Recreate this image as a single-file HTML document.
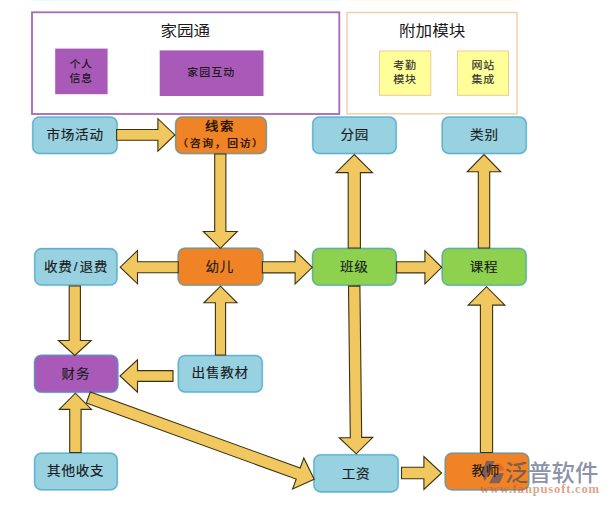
<!DOCTYPE html>
<html lang="zh-CN"><head><meta charset="utf-8"><title>家园通 流程图</title>
<style>html,body{margin:0;padding:0;background:#fff;}body{width:609px;height:505px;overflow:hidden;font-family:"Liberation Sans","Noto Sans CJK SC",sans-serif;}svg{display:block;}text.nt{stroke:#1a1a1a;stroke-width:0.15px;}text{font-family:"Liberation Sans","Noto Sans CJK SC",sans-serif;fill:#1a1a1a;text-anchor:middle;}</style></head><body>
<svg width="609" height="505" viewBox="0 0 609 505">
<rect width="609" height="505" fill="#fff"/>
<rect x="31" y="0" width="310" height="1" fill="#eafaff"/>
<rect x="346" y="0" width="172" height="1" fill="#fffbe8"/>
<rect x="32" y="12.3" width="307.3" height="101.7" fill="#fff" stroke="#a868b6" stroke-width="1.8"/>
<rect x="347" y="12.5" width="170" height="101.3" fill="#fff" stroke="#f3cfa6" stroke-width="1.5"/>
<text transform="translate(185.3 36) scale(1 0.92)" x="0" y="0" font-size="16.6">家园通</text>
<text transform="translate(432.2 36) scale(1 0.92)" x="0" y="0" font-size="16.6">附加模块</text>
<rect x="55.2" y="48.6" width="52.4" height="45.6" fill="#a95ab8"/>
<rect x="159.7" y="50.4" width="103.8" height="45.6" fill="#a95ab8"/>
<text transform="translate(81 67.7) scale(1 0.94)" x="0" y="0" font-size="11" font-weight="500" letter-spacing="0.5">个人</text>
<text transform="translate(81 82) scale(1 0.94)" x="0" y="0" font-size="11" font-weight="500" letter-spacing="0.5">信息</text>
<text transform="translate(211.2 76.4) scale(1 0.94)" x="0" y="0" font-size="11" font-weight="500" letter-spacing="1">家园互动</text>
<rect x="379.5" y="51" width="51.3" height="44.3" fill="#ffff99" stroke="#f2c79a" stroke-width="1"/>
<rect x="457.5" y="51" width="51" height="44.3" fill="#ffff99" stroke="#f2c79a" stroke-width="1"/>
<text transform="translate(405 69.2) scale(1 0.94)" x="0" y="0" font-size="11" letter-spacing="0.8" style="fill:#2e2e2e;stroke:#2e2e2e;stroke-width:0.15px">考勤</text>
<text transform="translate(405 83.3) scale(1 0.94)" x="0" y="0" font-size="11" letter-spacing="0.8" style="fill:#2e2e2e;stroke:#2e2e2e;stroke-width:0.15px">模块</text>
<text transform="translate(483.3 69.2) scale(1 0.94)" x="0" y="0" font-size="11" letter-spacing="0.8" style="fill:#2e2e2e;stroke:#2e2e2e;stroke-width:0.15px">网站</text>
<text transform="translate(483.3 83.3) scale(1 0.94)" x="0" y="0" font-size="11" letter-spacing="0.8" style="fill:#2e2e2e;stroke:#2e2e2e;stroke-width:0.15px">集成</text>
<rect x="32.10" y="116.40" width="85.60" height="37.80" rx="7.4" ry="7.4" fill="#98d1e0" stroke="#9fd6ea" stroke-width="0.6"/>
<rect x="32.85" y="117.15" width="84.10" height="36.30" rx="6.6" ry="6.6" fill="none" stroke="#3c9cc4" stroke-opacity="0.62" stroke-width="1.3"/>
<rect x="175.00" y="116.30" width="92.00" height="37.90" rx="7.4" ry="7.4" fill="#f08326" stroke="#9fd6ea" stroke-width="0.6"/>
<rect x="175.75" y="117.05" width="90.50" height="36.40" rx="6.6" ry="6.6" fill="none" stroke="#3c9cc4" stroke-opacity="0.62" stroke-width="1.3"/>
<rect x="312.10" y="116.40" width="84.70" height="37.80" rx="7.4" ry="7.4" fill="#98d1e0" stroke="#9fd6ea" stroke-width="0.6"/>
<rect x="312.85" y="117.15" width="83.20" height="36.30" rx="6.6" ry="6.6" fill="none" stroke="#3c9cc4" stroke-opacity="0.62" stroke-width="1.3"/>
<rect x="441.60" y="116.40" width="85.30" height="37.80" rx="7.4" ry="7.4" fill="#98d1e0" stroke="#9fd6ea" stroke-width="0.6"/>
<rect x="442.35" y="117.15" width="83.80" height="36.30" rx="6.6" ry="6.6" fill="none" stroke="#3c9cc4" stroke-opacity="0.62" stroke-width="1.3"/>
<rect x="34.10" y="248.00" width="83.50" height="37.70" rx="7.4" ry="7.4" fill="#98d1e0" stroke="#9fd6ea" stroke-width="0.6"/>
<rect x="34.85" y="248.75" width="82.00" height="36.20" rx="6.6" ry="6.6" fill="none" stroke="#3c9cc4" stroke-opacity="0.62" stroke-width="1.3"/>
<rect x="177.50" y="247.60" width="86.00" height="38.20" rx="7.4" ry="7.4" fill="#f08326" stroke="#9fd6ea" stroke-width="0.6"/>
<rect x="178.25" y="248.35" width="84.50" height="36.70" rx="6.6" ry="6.6" fill="none" stroke="#3c9cc4" stroke-opacity="0.62" stroke-width="1.3"/>
<rect x="311.90" y="247.80" width="84.90" height="38.00" rx="7.4" ry="7.4" fill="#8dd14f" stroke="#9fd6ea" stroke-width="0.6"/>
<rect x="312.65" y="248.55" width="83.40" height="36.50" rx="6.6" ry="6.6" fill="none" stroke="#3c9cc4" stroke-opacity="0.62" stroke-width="1.3"/>
<rect x="441.60" y="247.80" width="85.20" height="38.00" rx="7.4" ry="7.4" fill="#8dd14f" stroke="#9fd6ea" stroke-width="0.6"/>
<rect x="442.35" y="248.55" width="83.70" height="36.50" rx="6.6" ry="6.6" fill="none" stroke="#3c9cc4" stroke-opacity="0.62" stroke-width="1.3"/>
<rect x="33.90" y="354.70" width="84.50" height="38.10" rx="7.4" ry="7.4" fill="#a95ab8" stroke="#9fd6ea" stroke-width="0.6"/>
<rect x="34.65" y="355.45" width="83.00" height="36.60" rx="6.6" ry="6.6" fill="none" stroke="#3c9cc4" stroke-opacity="0.62" stroke-width="1.3"/>
<rect x="177.70" y="354.90" width="85.20" height="37.80" rx="7.4" ry="7.4" fill="#98d1e0" stroke="#9fd6ea" stroke-width="0.6"/>
<rect x="178.45" y="355.65" width="83.70" height="36.30" rx="6.6" ry="6.6" fill="none" stroke="#3c9cc4" stroke-opacity="0.62" stroke-width="1.3"/>
<rect x="34.00" y="452.60" width="83.90" height="37.80" rx="7.4" ry="7.4" fill="#98d1e0" stroke="#9fd6ea" stroke-width="0.6"/>
<rect x="34.75" y="453.35" width="82.40" height="36.30" rx="6.6" ry="6.6" fill="none" stroke="#3c9cc4" stroke-opacity="0.62" stroke-width="1.3"/>
<rect x="313.30" y="454.20" width="85.50" height="38.30" rx="7.4" ry="7.4" fill="#98d1e0" stroke="#9fd6ea" stroke-width="0.6"/>
<rect x="314.05" y="454.95" width="84.00" height="36.80" rx="6.6" ry="6.6" fill="none" stroke="#3c9cc4" stroke-opacity="0.62" stroke-width="1.3"/>
<rect x="444.60" y="452.60" width="84.80" height="37.90" rx="7.4" ry="7.4" fill="#f08326" stroke="#9fd6ea" stroke-width="0.6"/>
<rect x="445.35" y="453.35" width="83.30" height="36.40" rx="6.6" ry="6.6" fill="none" stroke="#3c9cc4" stroke-opacity="0.62" stroke-width="1.3"/>
<g fill="#f1c75f" stroke="#3b3213" stroke-width="1.1" stroke-linejoin="miter">
<polygon points="116.6,140.3 157.9,140.3 157.9,151.1 174.9,134.9 157.9,118.7 157.9,129.5 116.6,129.5"/>
<polygon points="214.7,154.0 214.7,231.5 203.3,231.5 220.3,248.3 237.3,231.5 225.9,231.5 225.9,154.0"/>
<polygon points="178.2,261.7 137.5,261.7 137.5,250.6 120.2,267.2 137.5,283.8 137.5,272.7 178.2,272.7"/>
<polygon points="262.4,272.9 295.1,272.9 295.1,283.9 312.3,267.3 295.1,250.7 295.1,261.7 262.4,261.7"/>
<polygon points="396.6,272.9 424.9,272.9 424.9,283.9 441.7,267.3 424.9,250.7 424.9,261.7 396.6,261.7"/>
<polygon points="360.4,248.0 360.4,172.6 372.5,172.6 354.3,154.6 336.1,172.6 348.2,172.6 348.2,248.0"/>
<polygon points="489.7,248.0 489.7,171.8 500.8,171.8 484.0,154.6 467.2,171.8 478.3,171.8 478.3,248.0"/>
<polygon points="348.5,286.1 350.3,437.6 339.2,437.7 356.2,453.8 372.8,437.3 361.7,437.4 359.9,285.9"/>
<polygon points="69.2,286.0 69.2,340.5 58.4,340.5 74.8,355.5 91.2,340.5 80.4,340.5 80.4,286.0"/>
<polygon points="225.6,355.0 225.6,302.8 237.1,302.8 220.5,286.2 203.9,302.8 215.4,302.8 215.4,355.0"/>
<polygon points="173.0,370.6 137.5,370.6 137.5,359.8 120.0,376.0 137.5,392.2 137.5,381.4 173.0,381.4"/>
<polygon points="81.1,452.5 81.1,409.4 91.5,409.4 75.4,393.2 59.3,409.4 69.7,409.4 69.7,452.5"/>
<polygon points="86.3,403.0 296.2,479.1 292.6,489.0 314.2,479.3 303.8,458.0 300.2,468.0 90.3,392.0"/>
<polygon points="401.5,478.8 423.9,478.8 423.9,489.4 441.6,473.0 423.9,456.6 423.9,467.2 401.5,467.2"/>
<polygon points="492.6,452.5 492.6,305.1 504.9,305.1 486.5,286.7 468.1,305.1 480.4,305.1 480.4,452.5"/>
</g>
<g fill="#57526e" fill-opacity="0.72">
<polygon points="486.1,461.1 494.8,461.1 484.7,481.3 481.7,473.5"/>
<polygon points="494.2,473.2 503.9,473.2 499.6,483.3 489.1,483.3"/>
</g>
<path d="M496.2 463 A7.8 7.8 0 0 1 504 470.8 L496.2 470.8 Z" fill="#e2622a" fill-opacity="0.75"/>
<text id="wm1" transform="translate(551.6 480.6) scale(1 0.95)" x="0" y="0" font-size="23.4" font-weight="500" style="fill:#2f4068;fill-opacity:0.58">泛普软件</text>
<text id="wm2" x="539.9" y="492.8" font-size="12.6" font-weight="bold" letter-spacing="0.8" style="font-family:'Liberation Serif',serif;fill:#c85a32;fill-opacity:0.58">www.fanpusoft.com</text>
<text transform="translate(75.1 134.4) scale(1 0.93)" x="0" y="4.9" font-size="13.6" class="nt" letter-spacing="0.7">市场活动</text>
<text transform="translate(219.9 131.3) scale(1 0.92)" x="0" y="0" font-size="13.4" font-weight="500" letter-spacing="1.4" style="fill:#26140a;stroke:#26140a;stroke-width:0.25px">线索</text>
<text transform="translate(220.9 147.1) scale(1 0.9)" x="0" y="0" font-size="10.8" font-weight="500" letter-spacing="1.7" style="fill:#26140a;stroke:#26140a;stroke-width:0.2px">（咨询，回访）</text>
<text transform="translate(354.7 134.4) scale(1 0.93)" x="0" y="4.9" font-size="13.6" class="nt" letter-spacing="0.7">分园</text>
<text transform="translate(484.4 134.4) scale(1 0.93)" x="0" y="4.9" font-size="13.6" class="nt" letter-spacing="0.7">类别</text>
<text transform="translate(76.0 266.0) scale(1 0.93)" x="0" y="4.9" font-size="13.6" class="nt" letter-spacing="0.7">收费<tspan dx="1.3">/</tspan><tspan dx="1.3">退费</tspan></text>
<text transform="translate(219.8 266.0) scale(1 0.93)" x="0" y="4.9" font-size="13.6" class="nt" letter-spacing="0.7">幼儿</text>
<text transform="translate(354.2 266.4) scale(1 0.93)" x="0" y="4.9" font-size="13.6" class="nt" letter-spacing="0.7">班级</text>
<text transform="translate(484.1 266.5) scale(1 0.93)" x="0" y="4.9" font-size="13.6" class="nt" letter-spacing="0.7">课程</text>
<text transform="translate(75.9 373.1) scale(1 0.93)" x="0" y="4.9" font-size="13.6" class="nt" letter-spacing="0.7">财务</text>
<text transform="translate(220.2 372.9) scale(1 0.93)" x="0" y="4.9" font-size="13.6" class="nt" letter-spacing="0.7">出售教材</text>
<text transform="translate(75.7 470.8) scale(1 0.93)" x="0" y="4.9" font-size="13.6" class="nt" letter-spacing="0.7">其他收支</text>
<text transform="translate(356.1 473.1) scale(1 0.93)" x="0" y="4.9" font-size="13.6" class="nt" letter-spacing="0.7">工资</text>
<text transform="translate(485.7 470.9) scale(1 0.93)" x="0" y="4.9" font-size="13.6" class="nt" letter-spacing="0.7">教师</text>
</svg>
</body></html>
